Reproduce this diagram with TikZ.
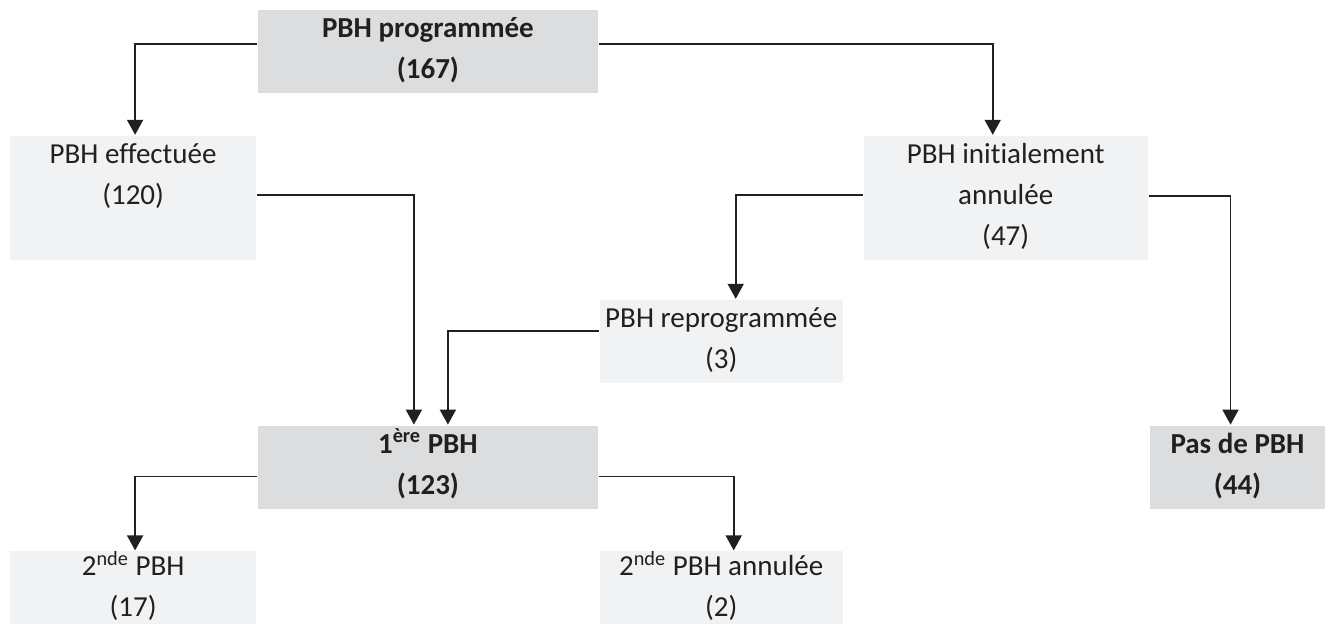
\documentclass[tikz,border=0pt]{standalone}
\usepackage{fontspec}
\setmainfont{Carlito}[Ligatures=NoCommon]
\usepackage{tikz}
\usetikzlibrary{positioning}
\usetikzlibrary{arrows.meta}

\definecolor{ink}{RGB}{35,31,32}
\definecolor{greydark}{RGB}{220,221,223}
\definecolor{greylight}{RGB}{241,242,244}

\begin{document}
\begin{tikzpicture}[->,>={Triangle[width=8pt,length=7.5pt]},color=ink,line width=0.9pt,
	every node/.style={inner sep=0pt,align=center,text height=34.25pt,text depth=7.25pt,font=\fontsize{14.5pt}{20.5pt}\selectfont},
	darkbox/.style={fill=greydark,font=\fontsize{14.5pt}{20.5pt}\selectfont\bfseries},
	lightbox/.style={fill=greylight}]

		\useasboundingbox (0pt,0pt) rectangle (662.5pt,-311.5pt);

		% first level
		\node (prog) [darkbox,anchor=north west,minimum width=170pt] at (128.5pt,-4.5pt) {PBH programmée\\(167)};

		% second level
		\node (eff) [lightbox,below left=20.5pt and 0pt of prog,minimum width=123pt,text depth=27.75pt] {PBH effectuée\\(120)};
		\node (init) [lightbox,below right=20.5pt and 132pt of prog,minimum width=142pt,text height=54.75pt] {PBH initialement\\annulée\\(47)};

		\draw [->] ([yshift=3.75pt]prog.west) -| ([xshift=1pt]eff.north);
		\draw [->] ([yshift=3.75pt]prog.east) -| ([xshift=-6.5pt]init.north);

		% first PBH, reprogrammed and none
		\node (first) [darkbox,below right=82pt and 0pt of eff,minimum width=170pt] {1\textsuperscript{ère} PBH\\(123)};
		\node (reprog) [lightbox,above right=20.5pt and 0pt of first,minimum width=121.5pt] {PBH reprogrammée\\(3)};
		\node (pas) [darkbox,below right=82pt and 0pt of init,minimum width=88pt] {Pas de PBH\\(44)};

		\draw [->] ([yshift=1.5pt]eff.east) -| ([xshift=-7pt]first.north);
		\draw [->] ([yshift=5.25pt]reprog.west) -| ([xshift=10pt]first.north);
		\draw [->] ([yshift=1.5pt]init.west) -| ([xshift=7.25pt]reprog.north);
		\draw [->] ([yshift=1pt]init.east) -| ([xshift=-3.5pt]pas.north);

		% second PBH
		\node (snd) [lightbox,below left=20.5pt and 0pt of first,minimum width=123pt,text height=32.75pt,text depth=6.25pt] {2\textsuperscript{nde} PBH\\(17)};
		\node (sndann) [lightbox,below right=20.5pt and 0pt of first,minimum width=121.5pt,text height=32.75pt,text depth=6.25pt] {2\textsuperscript{nde} PBH annulée\\(2)};

		\draw [->] ([yshift=-4.75pt]first.west) -| ([xshift=1pt]snd.north);
		\draw [->] ([yshift=-4.75pt]first.east) -| ([xshift=6.25pt]sndann.north);
	\end{tikzpicture}
\end{document}
